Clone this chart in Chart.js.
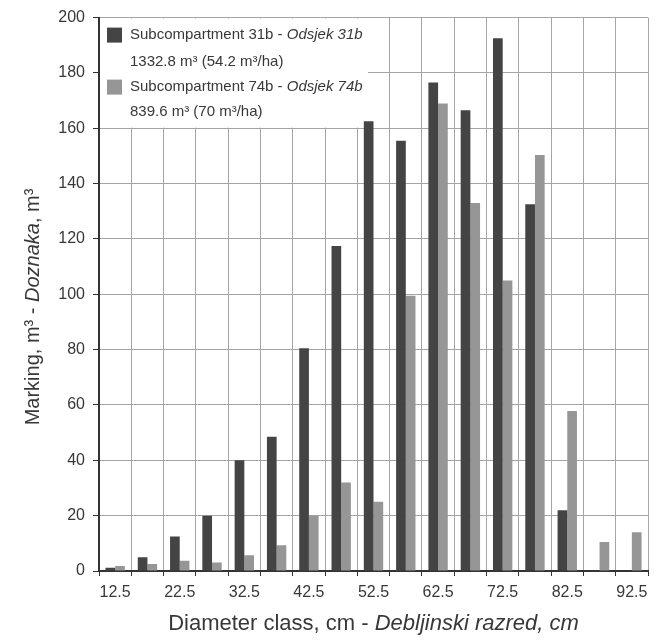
<!DOCTYPE html>
<html>
<head>
<meta charset="utf-8">
<script src="https://cdn.jsdelivr.net/npm/chart.js@4"></script>
<style>
  body { margin: 0; background: #fff; }
  #wrap { width: 659px; height: 642px; position: relative; }
</style>
</head>
<body>
<div id="wrap"><canvas id="markingChart"></canvas></div>
<script>
const categories = ["12.5", "17.5", "22.5", "27.5", "32.5", "37.5", "42.5", "47.5", "52.5",
  "57.5", "62.5", "67.5", "72.5", "77.5", "82.5", "87.5", "92.5"];
const labeledTicks = ["12.5", "22.5", "32.5", "42.5", "52.5", "62.5", "72.5", "82.5", "92.5"];
const sub31b = [1.2, 5, 12.5, 20, 40, 48.5, 80.5, 117.5, 162.5, 155.5, 176.5, 166.5, 192.5, 132.5, 22, 0, 0];
const sub74b = [1.8, 2.5, 3.7, 3.1, 5.7, 9.3, 20, 32, 25, 99.5, 169, 133, 105, 150.3, 57.8, 10.5, 14];
const yTicks = { min: 0, max: 200, step: 20 };

const FONT = '"Liberation Sans", Arial, sans-serif';
const TEXT = "#383838";
const DARK = "#444444";
const LIGHT = "#969696";

// draw a line of text with some parts in italic
function mixedText(ctx, parts, x, y, size, align) {
  const fonts = parts.map(p => (p.italic ? "italic " : "") + size + "px " + FONT);
  let total = 0;
  parts.forEach((p, i) => { ctx.font = fonts[i]; total += ctx.measureText(p.text).width; });
  let cx = align === "center" ? x - total / 2 : x;
  ctx.textAlign = "left";
  parts.forEach((p, i) => {
    ctx.font = fonts[i];
    ctx.fillText(p.text, cx, y);
    cx += ctx.measureText(p.text).width;
  });
}

const extrasPlugin = {
  id: "extras",
  beforeDatasetsDraw(chart) {
    const ctx = chart.ctx;
    const area = chart.chartArea;
    // white legend box over the grid
    ctx.save();
    ctx.fillStyle = "#fff";
    ctx.fillRect(area.left + 1, area.top + 1, 268, 109);
    ctx.restore();
  },
  afterDraw(chart) {
    const ctx = chart.ctx;
    const area = chart.chartArea;
    const sets = chart.data.datasets;
    ctx.save();
    ctx.fillStyle = TEXT;
    ctx.textBaseline = "middle";

    // legend
    const lx = area.left + 8;
    const rows = [
      { color: sets[0].backgroundColor, y: area.top + 17, gap: 27,
        line1: [{ text: "Subcompartment 31b - " }, { text: "Odsjek 31b", italic: true }],
        line2: [{ text: "1332.8 m³ (54.2 m³/ha)" }] },
      { color: sets[1].backgroundColor, y: area.top + 69, gap: 25,
        line1: [{ text: "Subcompartment 74b - " }, { text: "Odsjek 74b", italic: true }],
        line2: [{ text: "839.6 m³ (70 m³/ha)" }] }
    ];
    rows.forEach(r => {
      ctx.fillStyle = r.color;
      ctx.fillRect(lx, r.y - 7, 15, 15);
      ctx.fillStyle = TEXT;
      mixedText(ctx, r.line1, lx + 23, r.y, 15, "left");
      mixedText(ctx, r.line2, lx + 23, r.y + r.gap, 15, "left");
    });

    // x axis title
    mixedText(ctx, [{ text: "Diameter class, cm - " }, { text: "Debljinski razred, cm", italic: true }],
      (area.left + area.right) / 2, 624, 22, "center");

    // y axis title
    ctx.translate(33, 307);
    ctx.rotate(-Math.PI / 2);
    mixedText(ctx, [{ text: "Marking, m³ - " }, { text: "Doznaka", italic: true }, { text: ", m³" }],
      0, 0, 20, "center");
    ctx.restore();
  }
};

new Chart(document.getElementById("markingChart"), {
  type: "bar",
  data: {
    labels: categories,
    datasets: [
      { label: "Subcompartment 31b", data: sub31b, backgroundColor: DARK, borderWidth: 0 },
      { label: "Subcompartment 74b", data: sub74b, backgroundColor: LIGHT, borderWidth: 0 }
    ]
  },
  options: {
    responsive: true,
    maintainAspectRatio: false,
    animation: false,
    layout: { padding: { left: 0, top: 16, right: 11, bottom: 0 } },
    datasets: { bar: { categoryPercentage: 0.6, barPercentage: 1.0 } },
    plugins: { legend: { display: false }, tooltip: { enabled: false } },
    scales: {
      x: {
        afterFit(scale) { scale.height = 71; },
        grid: { color: "#a5a5a5", lineWidth: 1, tickLength: 5, tickColor: "#333", offset: true },
        border: { color: "#333", width: 2 },
        ticks: {
          color: TEXT,
          font: { family: FONT, size: 16 },
          padding: 7,
          maxRotation: 0,
          autoSkip: false,
          callback: function (value) {
            const lab = this.getLabelForValue(value);
            return labeledTicks.includes(lab) ? lab : "";
          }
        }
      },
      y: {
        min: yTicks.min,
        max: yTicks.max,
        afterFit(scale) { scale.width = 99; },
        grid: { color: "#a5a5a5", lineWidth: 1, tickLength: 6, tickColor: "#333" },
        border: { color: "#333", width: 2 },
        ticks: {
          stepSize: yTicks.step,
          color: TEXT,
          font: { family: FONT, size: 16 },
          padding: 8
        }
      }
    }
  },
  plugins: [extrasPlugin]
});
</script>
</body>
</html>
